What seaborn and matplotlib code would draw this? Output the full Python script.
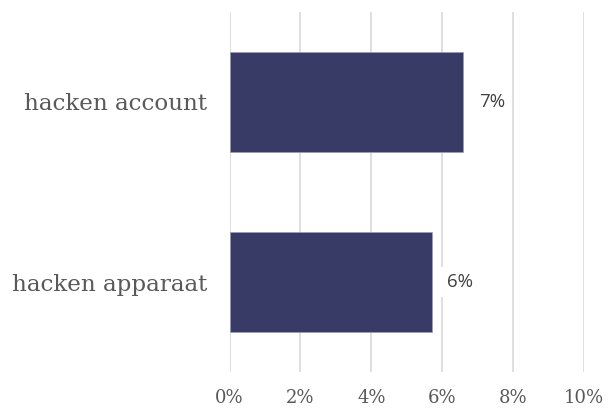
import matplotlib
matplotlib.use("Agg")
import matplotlib.pyplot as plt
import seaborn as sns
import pandas as pd
from matplotlib.ticker import FuncFormatter

categories = ["hacken account", "hacken apparaat"]
values = [6.6, 5.7]
labels = ["7%", "6%"]
xticks = [0, 2, 4, 6, 8, 10]

df = pd.DataFrame({"cat": categories, "val": values})

sns.set_theme(style="white")
fig = plt.figure(figsize=(6.08, 4.09), dpi=100)
ax = fig.add_axes([229.5/608, (409-372)/409, (584-229.5)/608, 360/409])

sns.barplot(data=df, y="cat", x="val", color="#373B66", saturation=1, width=0.555,
            orient="h", ax=ax, edgecolor="#9a9cb8", linewidth=0.5)

ax.set_xlim(0, 10)
ax.set_ylim(1.5, -0.5)
ax.set_xticks(xticks)
ax.xaxis.set_major_formatter(FuncFormatter(lambda v, p: f"{int(v)}%"))
ax.grid(axis="x", color="#dcdcdc", linewidth=1.3)
ax.set_axisbelow(True)
for s in ax.spines.values():
    s.set_visible(False)
ax.set_xlabel("")
ax.set_ylabel("")
ax.tick_params(axis="both", length=0)
ax.tick_params(axis="x", pad=12)
ax.tick_params(axis="y", pad=16)
for t in ax.get_xticklabels():
    t.set_fontfamily("DejaVu Serif")
    t.set_fontsize(13)
    t.set_color("#595959")
for t in ax.get_yticklabels():
    t.set_fontfamily("DejaVu Serif")
    t.set_fontsize(16.6)
    t.set_color("#595959")

for i, (v, lab) in enumerate(zip(values, labels)):
    ax.annotate(lab, xy=(v, i), xytext=(11, 0), textcoords="offset points",
                ha="left", va="center", fontsize=13.5, color="#404040",
                family="Open Sans",
                bbox=dict(boxstyle="square,pad=0.3", fc="white", ec="none"))

fig.savefig("out.png", dpi=100)
